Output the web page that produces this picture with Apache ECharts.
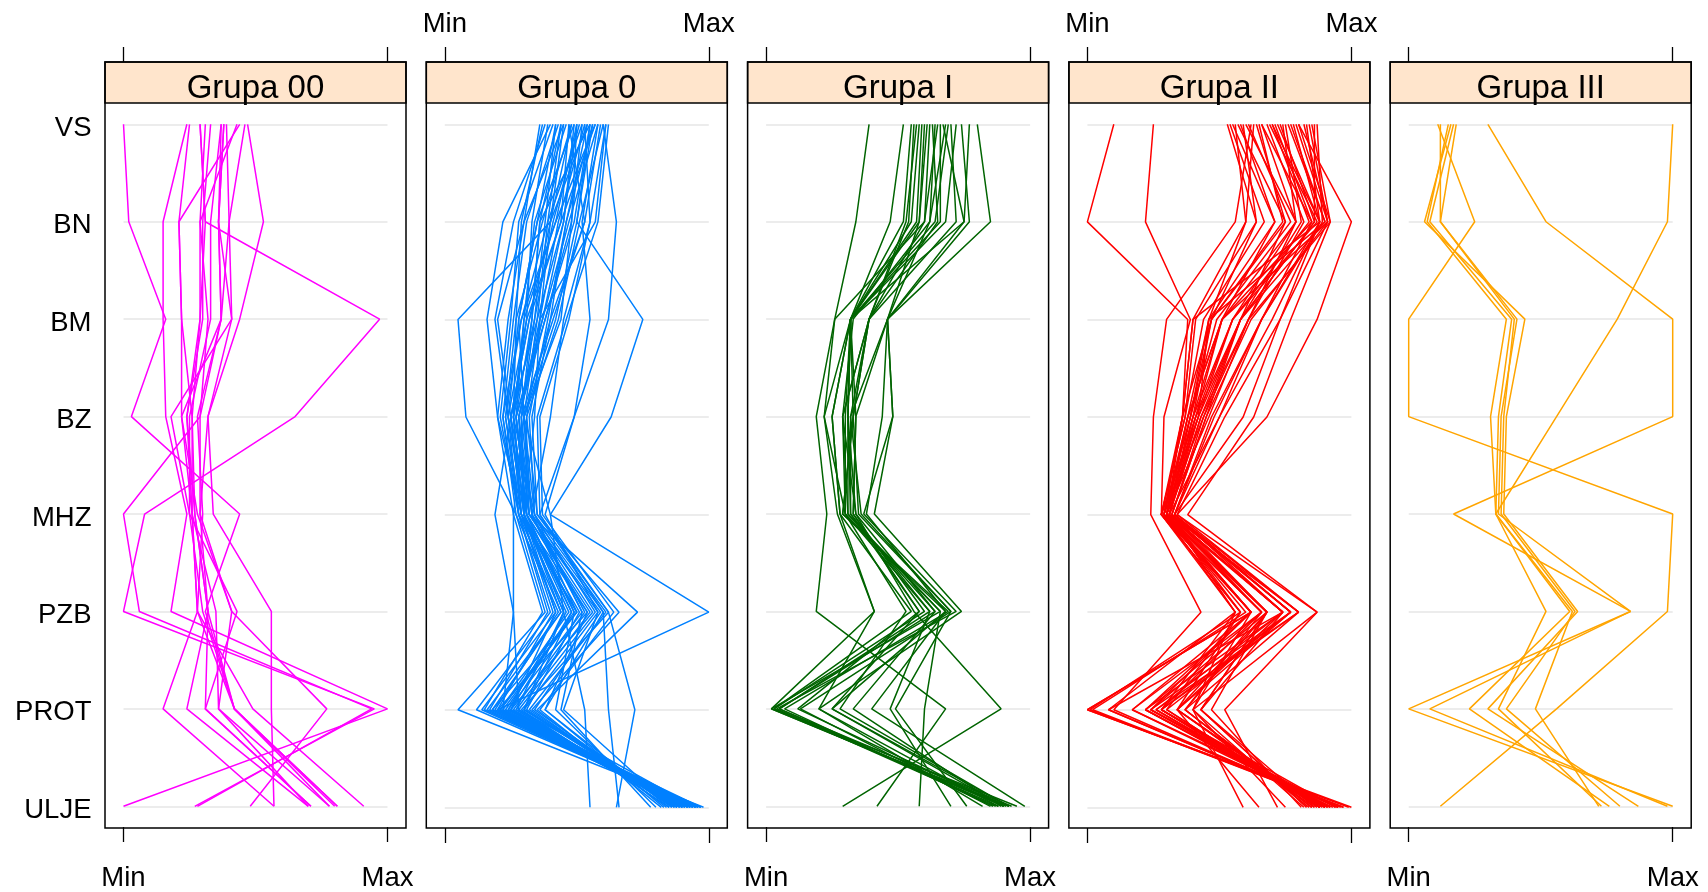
<!DOCTYPE html>
<html><head><meta charset="utf-8">
<script src="https://cdn.jsdelivr.net/npm/echarts@6/dist/echarts.min.js"></script>
<style>html,body{margin:0;padding:0;background:#fff}#c{width:1708px;height:892px}</style>
</head><body><div id="c"></div>
<script>
const variables = ['VS','BN','BM','BZ','MHZ','PZB','PROT','ULJE'];
const groups = ['Grupa 00','Grupa 0','Grupa I','Grupa II','Grupa III'];
const colors = ['#ff00ff','#0080ff','#006400','#ff0000','#ffa500'];
const tickLabels = ['Min','Max'];
// values scaled 0 (Min) .. 100 (Max), order: VS BN BM BZ MHZ PZB PROT ULJE
const grupa00 = [
[0,2,16,3,44,31,42,81],[47,53,44,32,34,56,56,57],[29,31,97,65,8,0,95,27],[37,36,37,29,0,6,94,28],
[24,15,15,16,24,18,100,0],[25,21,22,22,26,28,15,57],[31,29,29,26,27,32,24,70],[38,36,41,18,25,43,31,71],
[39,40,37,22,28,41,36,78],[43,29,32,29,29,32,42,81],[44,21,22,26,26,28,49,91],[46,40,41,32,29,41,77,48],
[29,31,29,24,27,32,31,71],[37,33,33,25,25,30,42,80],[33,30,30,24,26,35,36,70],[38,36,37,28,30,28,42,78]
];
const grupa0 = [
[45,40,5,8,27,38,5,98],[55,50,75,63,40,45,30,90],[60,65,62,49,38,58,45,86],[50,45,35,30,40,100,20,90],
[45,30,20,25,19,26,28,95],[42,35,28,30,26,26,22,93],[52,48,44,30,33,60,62,66],[58,52,55,49,36,62,72,65],
[48,40,36,34,30,45,53,55],[40,22,16,20,29,42,14,96],[38,26,19,24,28,40,12,97],[37,29,27,26,30,44,16,95],
[53,55,45,40,33,50,18,94],[61,57,36,31,31,48,25,92],[57,42,30,26,34,52,24,91],[55,36,33,27,31,55,27,89],
[50,48,38,28,32,58,30,88],[47,44,32,25,29,54,20,97],[44,39,29,23,28,50,22,95],[59,53,40,33,35,66,33,86],
[56,50,42,30,32,73,35,84],[62,58,46,35,36,60,38,83],[49,35,28,24,30,47,21,93],[51,41,34,29,33,53,26,90],
[46,34,30,27,31,49,23,92],[43,31,26,22,27,43,19,96],[54,46,39,32,34,57,28,87],[58,47,37,28,30,51,31,89],
[41,28,25,21,28,39,17,94],[39,33,31,26,29,41,20,93],[52,39,35,25,32,56,25,91],[60,51,43,31,35,62,29,85],
[57,44,31,24,31,49,42,80],[48,37,27,23,29,46,24,94],[53,43,36,28,33,52,44,78],[36,30,24,20,26,37,15,97],
[47,53,41,29,30,45,27,88],[55,49,38,27,32,59,34,87],[44,36,33,29,30,48,30,90],[50,42,29,22,28,44,18,96],
[61,55,47,36,37,64,36,82],[49,45,37,27,31,54,38,85],[42,38,34,26,30,42,25,92],[56,46,40,30,34,61,32,88],
[54,40,32,25,29,50,21,95]
];
const grupaI = [
[39,34,26,19,23,19,68,42],[52,47,32,22,27,41,2,92],[60,58,32,25,28,55,3,90],[64,62,33,29,30,62,5,88],
[66,66,32,31,31,66,2,91],[70,72,39,33,29,69,7,86],[67,75,46,32,36,70,13,85],[80,85,46,48,41,74,20,82],
[58,55,32,34,33,58,25,90],[62,60,26,22,30,53,28,92],[57,53,39,29,34,64,33,89],[74,77,46,44,38,68,40,98],
[69,64,32,31,32,62,47,70],[65,60,39,33,35,70,49,76],[72,68,32,30,30,66,60,58],[55,52,32,31,34,56,89,29],
[61,58,46,34,33,60,3,95],[63,65,39,29,31,64,5,93],[59,57,32,25,28,41,20,88],[68,62,46,48,37,72,4,87],
[56,54,39,32,32,58,12,90],[77,75,32,33,29,68,25,92]
];
const grupaII = [
[10,0,38,36,30,62,22,90],[25,22,39,29,28,66,28,88],[62,56,30,25,24,43,10,95],[80,100,87,68,34,80,37,85],
[85,92,77,63,38,87,40,82],[72,88,73,59,33,77,24,92],[66,85,66,50,31,74,34,88],[60,79,61,46,30,68,43,86],
[57,75,58,44,29,68,47,81],[55,71,51,41,28,62,0,100],[59,64,47,40,30,58,1,97],[63,60,46,39,31,56,8,95],
[70,88,40,36,29,62,17,93],[76,90,46,42,28,66,22,91],[82,91,51,38,30,74,26,90],[86,86,58,45,32,77,30,88],
[68,82,61,43,31,80,28,94],[74,79,55,40,30,68,37,84],[78,88,66,47,33,74,43,83],[84,91,73,52,34,87,52,72],
[53,64,41,37,28,58,34,65],[64,75,47,36,29,62,40,59],[71,85,51,40,30,66,17,95],[75,81,58,42,31,68,24,90],
[58,71,46,38,29,56,28,89],[80,92,61,44,32,77,34,86],[69,87,55,41,30,62,0,99],[61,77,49,39,29,60,2,97],
[73,86,58,43,31,74,22,92],[87,89,66,48,33,80,26,90],[56,60,40,36,28,58,30,88],[66,79,51,38,30,66,37,85],
[79,91,62,45,32,68,43,83],[83,88,70,50,33,77,28,91],[65,74,47,39,29,62,24,94],[77,90,58,41,31,74,8,96],
[54,67,44,37,28,56,40,75],[70,84,55,42,30,68,34,87]
];
const grupaIII = [
[100,98,79,56,33,62,48,72],[30,52,100,100,17,84,0,100],[11,25,0,0,100,98,56,12],[15,7,37,31,33,52,34,73],
[17,8,39,34,33,61,23,76],[12,12,40,36,35,63,37,80],[16,6,44,37,36,64,30,87],[18,12,41,35,34,84,8,98]
];
const groupData = [grupa00, grupa0, grupaI, grupaII, grupaIII];

const FONT = 'Liberation Sans, Arial, Helvetica, sans-serif';
const P0 = 105, PSTEP = 321.3, PW = 301, PAD = 18.5;
const BOX_TOP = 62, STRIP_H = 41, BOX_BOT = 828;
const G_TOP = 124.3, G_BOT = 807.3;

const grids = [], xAxes = [], yAxes = [], series = [], graphics = [];
groups.forEach((g, p) => {
  const left = P0 + p * PSTEP;
  grids.push({left: left + PAD, top: G_TOP, width: PW - 2 * PAD, height: G_BOT - G_TOP});
  const fmt = v => v === 0 ? tickLabels[0] : tickLabels[1];
  const tick = {show: true, length: 15, inside: false, lineStyle: {color: '#000', width: 1.3}};
  xAxes.push({gridIndex: p, type: 'value', min: 0, max: 100, interval: 100, position: 'bottom',
    offset: BOX_BOT - G_BOT, axisLine: {show: false}, axisTick: tick, splitLine: {show: false},
    axisLabel: {show: p % 2 === 0, formatter: fmt, fontFamily: FONT, fontSize: 27.5, color: '#000', margin: 37}});
  xAxes.push({gridIndex: p, type: 'value', min: 0, max: 100, interval: 100, position: 'top',
    offset: G_TOP - BOX_TOP, axisLine: {show: false}, axisTick: tick, splitLine: {show: false},
    axisLabel: {show: p % 2 === 1, formatter: fmt, fontFamily: FONT, fontSize: 27.5, color: '#000', margin: 24}});
  yAxes.push({gridIndex: p, type: 'category', data: variables, inverse: true, boundaryGap: false,
    axisLine: {show: false}, axisTick: {show: false},
    splitLine: {show: true, lineStyle: {color: '#e6e6e6', width: 1.5}},
    axisLabel: {show: p === 0, margin: 32, formatter: '{a|{value}}',
      rich: {a: {fontFamily: FONT, fontSize: 27.5, color: '#000', padding: [8, 0, 0, 0]}}}});
  groupData[p].forEach(row => {
    series.push({type: 'line', xAxisIndex: 2 * p, yAxisIndex: p, data: row.map((v, i) => [v, i]),
      symbol: 'none', silent: true, animation: false, z: 3,
      lineStyle: {color: colors[p], width: 1.5}});
  });
  graphics.push({type: 'rect', shape: {x: left, y: BOX_TOP, width: PW, height: BOX_BOT - BOX_TOP},
    style: {fill: 'none', stroke: '#000', lineWidth: 1.5}, z: 10});
  graphics.push({type: 'rect', shape: {x: left, y: BOX_TOP, width: PW, height: STRIP_H},
    style: {fill: '#ffe5cc', stroke: '#000', lineWidth: 1.5}, z: 9});
  graphics.push({type: 'text', x: left + PW / 2, y: BOX_TOP + STRIP_H / 2 + 6,
    style: {text: g, fontFamily: FONT, fontSize: 33, fill: '#000', textAlign: 'center', textVerticalAlign: 'middle'}, z: 11});
});

const chart = echarts.init(document.getElementById('c'), null, {renderer: 'canvas'});
chart.setOption({backgroundColor: '#fff', animation: false, grid: grids, xAxis: xAxes, yAxis: yAxes,
  series: series, graphic: graphics});
</script></body></html>
